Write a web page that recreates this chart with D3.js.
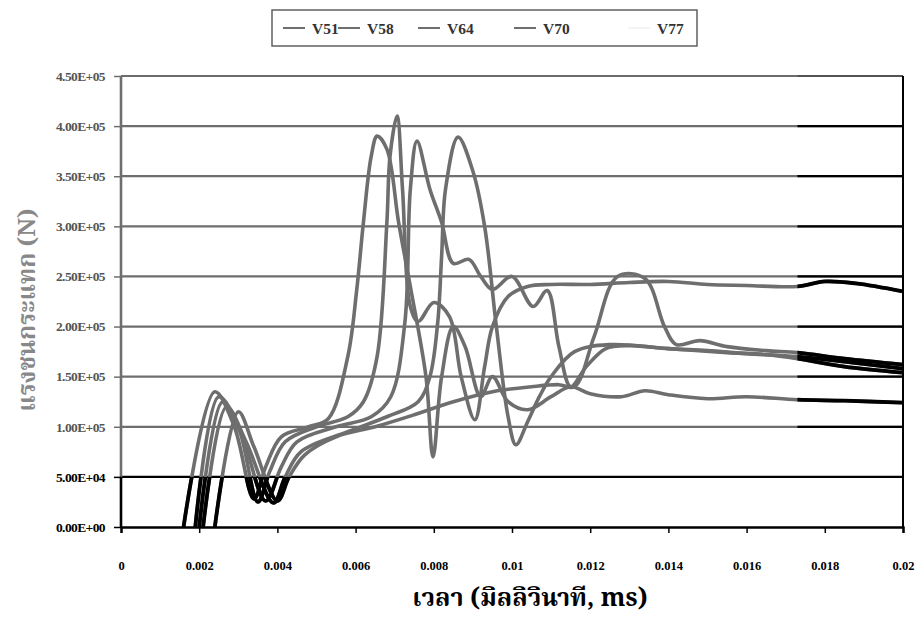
<!DOCTYPE html>
<html>
<head>
<meta charset="utf-8">
<script src="https://cdn.jsdelivr.net/npm/d3@7"></script>
<style>
  body { margin: 0; background: #fff; }
  svg { display: block; }
</style>
</head>
<body>
<svg id="chart" width="922" height="625"></svg>
<script>
// Impact force (N) against time for five impact velocities
const seriesNames = ["V51", "V58", "V64", "V70", "V77"];

const v51Time  = [0.0024,0.0030,0.0034,0.0040,0.0043,0.0047,0.0055,0.0065,0.0075,0.0085,0.0095,0.0105,0.0112,0.0116,0.0121,0.0127,0.0134,0.0139,0.0142,0.0148,0.0155,0.0165,0.0173,0.0185,0.0200];
const v51Force = [0,115000,80000,26000,50000,72000,90000,100000,112000,125000,135000,140000,142000,140000,190000,250000,248000,200000,182000,186000,180000,176000,174000,168000,162000];

const v58Time  = [0.0021,0.0027,0.0032,0.0039,0.0042,0.0046,0.0058,0.0068,0.0076,0.0079,0.0081,0.0082,0.0083,0.00862,0.0090,0.0093,0.0096,0.0099,0.0101,0.0104,0.0107,0.0110,0.0116,0.0125,0.0140,0.0155,0.0165,0.0173,0.0185,0.0200];
const v58Force = [0,120000,85000,24000,50000,75000,95000,110000,125000,150000,204000,270000,337000,389000,355000,300000,200000,110000,82000,105000,130000,150000,175000,182000,178000,174000,172000,168000,160000,154000];

const v64Time  = [0.0020,0.0026,0.0031,0.0037,0.0041,0.0045,0.0055,0.0064,0.0069,0.00726,0.0074,0.00757,0.0079,0.0082,0.0085,0.0089,0.0092,0.0095,0.0100,0.01054,0.0109,0.0112,0.0115,0.0119,0.0124,0.0130,0.0140,0.0150,0.0160,0.0173,0.0185,0.0200];
const v64Force = [0,125000,90000,26000,60000,85000,100000,110000,130000,204000,337000,385000,337000,304000,263000,267000,250000,237000,250000,220000,236000,180000,140000,160000,178000,181000,178000,176000,173000,170000,165000,158000];

const v70Time  = [0.0019,0.0025,0.0030,0.0035,0.0038,0.0042,0.0050,0.0058,0.0062,0.00655,0.0068,0.00688,0.00706,0.0072,0.0074,0.0076,0.0080,0.0084,0.0087,0.00905,0.0093,0.0095,0.0099,0.0104,0.0110,0.0120,0.0130,0.0140,0.0150,0.0160,0.0173,0.0180,0.0188,0.0200];
const v70Force = [0,130000,100000,25000,55000,85000,100000,110000,125000,170000,304000,370000,410000,337000,220000,205000,224000,210000,150000,107000,160000,200000,230000,240000,242000,242000,244000,245000,242000,241000,240000,245000,243000,235000];

const v77Time  = [0.0016,0.0024,0.0029,0.0034,0.0037,0.0041,0.0048,0.0053,0.0058,0.00603,0.0062,0.0064,0.00655,0.0068,0.0071,0.0074,0.0078,0.00798,0.0082,0.0085,0.0088,0.0092,0.0095,0.0099,0.0104,0.0110,0.0115,0.0120,0.0128,0.0134,0.0140,0.0150,0.0160,0.0173,0.0185,0.0200];
const v77Force = [0,135000,100000,28000,60000,90000,100000,108000,170000,237000,304000,370000,390000,377000,304000,240000,150000,70000,150000,200000,180000,130000,150000,125000,117000,130000,140000,133000,130000,136000,132000,128000,130000,127000,126000,124000];

const xTicks = [0,0.002,0.004,0.006,0.008,0.01,0.012,0.014,0.016,0.018,0.02];
const xTickLabels = ["0","0.002","0.004","0.006","0.008","0.01","0.012","0.014","0.016","0.018","0.02"];
const yTicks = [0,50000,100000,150000,200000,250000,300000,350000,400000,450000];
const yTickLabels = ["0.00E+00","5.00E+04","1.00E+05","1.50E+05","2.00E+05","2.50E+05","3.00E+05","3.50E+05","4.00E+05","4.50E+05"];

const xTitle = "เวลา (มิลลิวินาที, ms)";
const yTitle = "แรงชนกระแทก (N)";

const seriesTimes  = [v51Time, v58Time, v64Time, v70Time, v77Time];
const seriesForces = [v51Force, v58Force, v64Force, v70Force, v77Force];
const series = seriesNames.map((name, i) => ({
  name,
  points: seriesTimes[i].map((t, j) => ({ t, f: seriesForces[i][j] }))
}));

const plot = { left: 121, right: 903, top: 76, bottom: 527 };
const grey = "#6e6e6e";
const serif = "'Liberation Serif', 'Times New Roman', serif";
const thai = "'Noto Serif Thai', 'Noto Sans Thai', 'Norasi', 'Loma', 'Garuda', 'Liberation Serif', serif";

const x = d3.scaleLinear().domain([0, 0.02]).range([plot.left, plot.right]);
const y = d3.scaleLinear().domain([0, 450000]).range([plot.bottom, plot.top]);

const svg = d3.select("#chart");
const defs = svg.append("defs");

// The band under 5.00E+04 and the strip past t = 0.0173 print in solid black
const darkX = x(0.0173);
const darkY = y(50000);
defs.append("clipPath").attr("id", "clip-plot")
  .append("rect").attr("x", plot.left).attr("y", plot.top)
  .attr("width", plot.right - plot.left).attr("height", plot.bottom - plot.top);
const darkClip = defs.append("clipPath").attr("id", "clip-dark");
darkClip.append("rect").attr("x", plot.left).attr("y", darkY)
  .attr("width", plot.right - plot.left).attr("height", plot.bottom - darkY + 2);
darkClip.append("rect").attr("x", darkX).attr("y", plot.top - 2)
  .attr("width", plot.right - darkX + 2).attr("height", plot.bottom - plot.top + 4);

// Horizontal gridlines
const grid = svg.append("g");
grid.selectAll("line").data(yTicks.filter(v => v > 0)).join("line")
  .attr("x1", plot.left).attr("x2", plot.right)
  .attr("y1", d => y(d)).attr("y2", d => y(d))
  .attr("stroke", d => d <= 50000 ? "#000" : grey)
  .attr("stroke-width", 2.2);
const gridDark = svg.append("g").attr("clip-path", "url(#clip-dark)");
gridDark.selectAll("line").data(yTicks.filter(v => v > 50000)).join("line")
  .attr("x1", plot.left).attr("x2", plot.right)
  .attr("y1", d => y(d)).attr("y2", d => y(d))
  .attr("stroke", "#000").attr("stroke-width", 2.2);

// Series lines
const line = d3.line()
  .x(d => x(d.t)).y(d => y(d.f))
  .curve(d3.curveCatmullRom.alpha(0.5));

const lines = svg.append("g").attr("clip-path", "url(#clip-plot)");
lines.selectAll("path").data(series).join("path")
  .attr("d", d => line(d.points))
  .attr("fill", "none").attr("stroke", grey)
  .attr("stroke-width", 3.6).attr("stroke-linejoin", "round");

const darkWrap = svg.append("g").attr("clip-path", "url(#clip-plot)");
darkWrap.append("g").attr("clip-path", "url(#clip-dark)")
  .selectAll("path").data(series).join("path")
  .attr("d", d => line(d.points))
  .attr("fill", "none").attr("stroke", "#000")
  .attr("stroke-width", 3.8).attr("stroke-linejoin", "round");

// Plot frame
svg.append("line").attr("x1", plot.left).attr("x2", plot.left)
  .attr("y1", plot.top).attr("y2", darkY).attr("stroke", grey).attr("stroke-width", 2.6);
svg.append("line").attr("x1", plot.left).attr("x2", plot.left)
  .attr("y1", darkY).attr("y2", plot.bottom).attr("stroke", "#000").attr("stroke-width", 2.6);
svg.append("line").attr("x1", plot.left).attr("x2", plot.right)
  .attr("y1", plot.top).attr("y2", plot.top).attr("stroke", grey).attr("stroke-width", 1.4);
svg.append("line").attr("x1", plot.right).attr("x2", plot.right)
  .attr("y1", plot.top).attr("y2", plot.bottom).attr("stroke", "#000").attr("stroke-width", 2);

// Axes
const xAxis = d3.axisBottom(x).tickValues(xTicks)
  .tickFormat((d, i) => xTickLabels[i]).tickSize(6).tickPadding(28);
const gx = svg.append("g").attr("transform", `translate(0,${plot.bottom})`).call(xAxis);
gx.select(".domain").attr("stroke", "#000").attr("stroke-width", 2.4);
gx.selectAll(".tick line").attr("stroke", "#000").attr("stroke-width", 1.5);
gx.selectAll(".tick text")
  .attr("font-family", serif).attr("font-weight", "bold")
  .attr("font-size", 12.5).attr("fill", "#000");

const yAxis = d3.axisLeft(y).tickValues(yTicks)
  .tickFormat((d, i) => yTickLabels[i]).tickSize(7).tickPadding(9);
const gy = svg.append("g").attr("transform", `translate(${plot.left},0)`).call(yAxis);
gy.select(".domain").remove();
gy.selectAll(".tick line").attr("stroke", d => d <= 50000 ? "#000" : grey).attr("stroke-width", 1.5);
gy.selectAll(".tick text")
  .attr("font-family", serif).attr("font-weight", "bold")
  .attr("font-size", 13.5).attr("letter-spacing", "-0.6px")
  .attr("fill", d => d <= 50000 ? "#000" : "#555");

// Axis titles
svg.append("text")
  .attr("x", 530).attr("y", 606)
  .attr("text-anchor", "middle")
  .attr("font-family", thai).attr("font-weight", "bold")
  .attr("font-size", 25).attr("fill", "#000")
  .text(xTitle);

svg.append("text")
  .attr("transform", `translate(35,310) rotate(-90)`)
  .attr("text-anchor", "middle")
  .attr("font-family", thai).attr("font-weight", "bold")
  .attr("font-size", 24).attr("fill", "#888")
  .text(yTitle);

// Legend
const legend = svg.append("g");
legend.append("rect")
  .attr("x", 272).attr("y", 10).attr("width", 425).attr("height", 36)
  .attr("fill", "#fff").attr("stroke", "#555").attr("stroke-width", 1.4);
const legendX = [283, 338, 418, 514, 628];
const legendColours = [grey, grey, grey, grey, "#f4f4f4"];
const items = legend.selectAll("g.item").data(seriesNames).join("g")
  .attr("class", "item")
  .attr("transform", (d, i) => `translate(${legendX[i]},28)`);
items.append("line").attr("x1", 0).attr("x2", 22).attr("y1", 0).attr("y2", 0)
  .attr("stroke", (d, i) => legendColours[i]).attr("stroke-width", 2);
items.append("text").attr("x", 29).attr("y", 5.5)
  .attr("font-family", serif).attr("font-weight", "bold")
  .attr("font-size", 15.5).attr("fill", "#333")
  .text(d => d);
</script>
</body>
</html>
